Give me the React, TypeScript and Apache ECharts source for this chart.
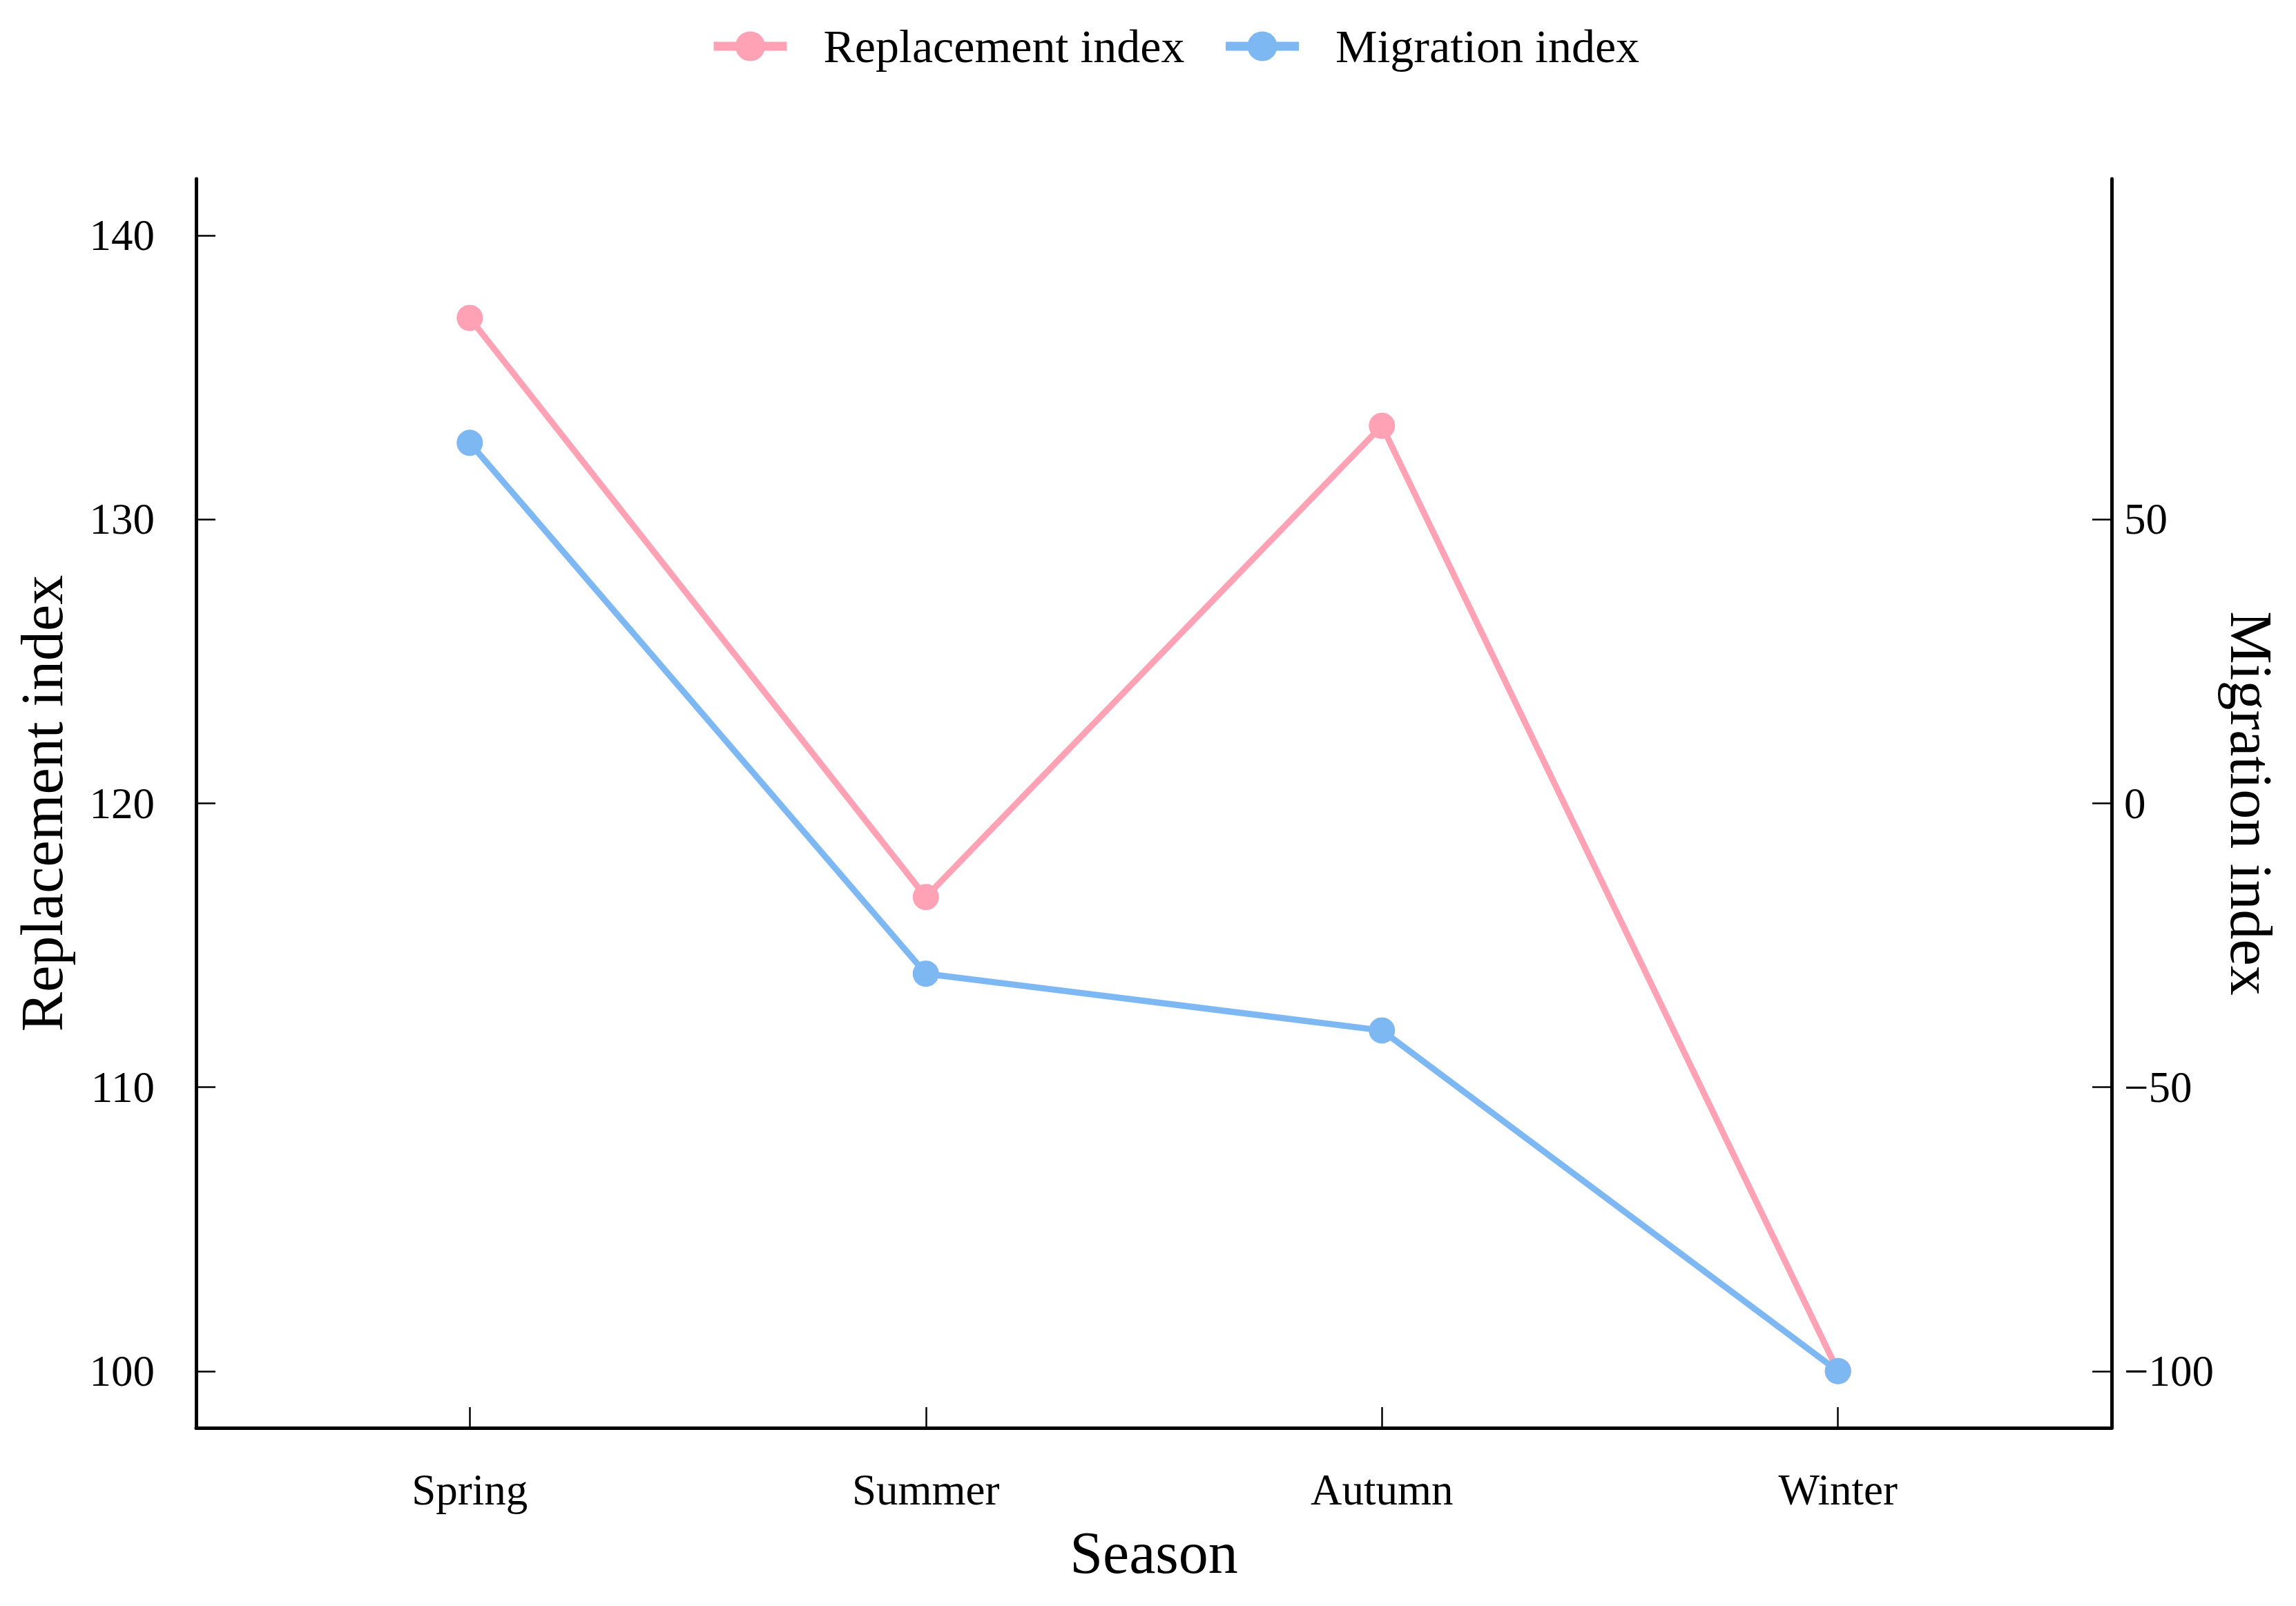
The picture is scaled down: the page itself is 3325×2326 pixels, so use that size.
import React, { useEffect, useRef } from "react";
import * as echarts from "echarts";

const seasons = ["Spring", "Summer", "Autumn", "Winter"];
const seasonPositions = [1, 2, 3, 4];
const replacementIndex = [137.1, 116.7, 133.3, 100.0];
const migrationIndex = [63.5, -30.0, -40.0, -100.0];
const leftTicks = [100, 110, 120, 130, 140];
const rightTicks = [-100, -50, 0, 50];

const FONT = "Liberation Serif";
const PINK = "#FFA2B5";
const BLUE = "#7EB8F3";

export default function App() {
  const ref = useRef<HTMLDivElement>(null);
  useEffect(() => {
    if (!ref.current) return;
    const chart = echarts.init(ref.current, undefined, { renderer: "svg" });
    const axisLine = { show: true, onZero: false, lineStyle: { color: "#000", width: 5 } };
    const tickStyle = { color: "#000", width: 2.5 };
    const fmtMinus = (v: number) => (v < 0 ? "\u2212" + Math.abs(v) : String(v));
    chart.setOption({
      animation: false,
      backgroundColor: "#fff",
      textStyle: { fontFamily: FONT, color: "#000" },
      legend: {
        top: 28,
        left: 1022,
        itemWidth: 106,
        itemHeight: 54,
        itemGap: 53,
        lineStyle: { width: 13 },
        textStyle: { fontSize: 68, fontFamily: FONT, color: "#000", padding: [0, 0, 0, 48] },
        data: ["Replacement index", "Migration index"],
      },
      grid: { left: 284, right: 267, top: 259, bottom: 258, containLabel: false },
      xAxis: {
        type: "value",
        min: 0.4,
        max: 4.6,
        name: "Season",
        nameLocation: "middle",
        nameGap: 138,
        nameTextStyle: { fontSize: 86, fontFamily: FONT, color: "#000" },
        axisLine,
        axisTick: { show: true, inside: true, length: 30, lineStyle: tickStyle, customValues: seasonPositions },
        axisLabel: {
          customValues: seasonPositions,
          fontSize: 63,
          margin: 58,
          color: "#000",
          fontFamily: FONT,
          formatter: (v: number) => seasons[Math.round(v) - 1] ?? "",
        },
        splitLine: { show: false },
      },
      yAxis: [
        {
          type: "value",
          position: "left",
          min: 98,
          max: 142,
          name: "Replacement index",
          nameLocation: "middle",
          nameGap: 180,
          nameTextStyle: { fontSize: 86, fontFamily: FONT, color: "#000" },
          axisLine,
          axisTick: { show: true, inside: true, length: 28, lineStyle: tickStyle, customValues: leftTicks },
          axisLabel: { customValues: leftTicks, fontSize: 63, margin: 60, color: "#000", fontFamily: FONT },
          splitLine: { show: false },
        },
        {
          type: "value",
          position: "right",
          min: -110,
          max: 110,
          name: "Migration index",
          nameLocation: "middle",
          nameRotate: -90,
          nameGap: 155,
          nameTextStyle: { fontSize: 86, fontFamily: FONT, color: "#000" },
          axisLine,
          axisTick: { show: true, inside: true, length: 28, lineStyle: tickStyle, customValues: rightTicks },
          axisLabel: {
            customValues: rightTicks,
            fontSize: 63,
            margin: 18,
            color: "#000",
            fontFamily: FONT,
            formatter: fmtMinus,
          },
          splitLine: { show: false },
        },
      ],
      series: [
        {
          name: "Replacement index",
          type: "line",
          yAxisIndex: 0,
          data: seasonPositions.map((x, i) => [x, replacementIndex[i]]),
          symbol: "circle",
          symbolSize: 38,
          lineStyle: { color: PINK, width: 9 },
          itemStyle: { color: PINK },
        },
        {
          name: "Migration index",
          type: "line",
          yAxisIndex: 1,
          data: seasonPositions.map((x, i) => [x, migrationIndex[i]]),
          symbol: "circle",
          symbolSize: 38,
          lineStyle: { color: BLUE, width: 9 },
          itemStyle: { color: BLUE },
        },
      ],
    });
    return () => chart.dispose();
  }, []);
  return (
    <div
      ref={ref}
      style={{ position: "fixed", left: 0, top: 0, width: 3325, height: 2326, background: "#fff" }}
    />
  );
}
